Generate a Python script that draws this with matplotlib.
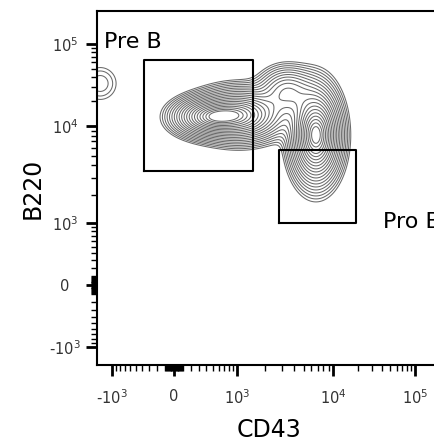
import numpy as np
import matplotlib
matplotlib.use("Agg")
import matplotlib.pyplot as plt

# axis ticks (data values) and their on-screen placement (biexponential display)
tick_vals = [-1e3, 0, 1e3, 1e4, 1e5]
tick_text = ['-$\\mathregular{10^{3}}$', '0', '$\\mathregular{10^{3}}$',
             '$\\mathregular{10^{4}}$', '$\\mathregular{10^{5}}$']
x_tick_px = [112, 174, 237, 333, 415]
y_tick_px = [98, 160, 222, 319, 401]   # measured from the bottom of the figure
W = 476.0

# cell populations: centre (CD43, B220), spread in display px, weight
pop_cd43 = [420, 1080, 6700, 3400, -1360]
pop_b220 = [12900, 13600, 8100, 26000, 33000]
pop_sx = [18, 22, 12.5, 15, 12]
pop_sy = [10, 13, 24, 13, 12]
pop_w = [0.65, 0.8, 1.0, 0.3, 0.05]

# gates: (x0, x1, y0, y1)
gates = {'Pre B': (-380, 1480, 3500, 64000),
         'Pro B': (2800, 19000, 1000, 5700)}


def make_scale(px):
    s = np.arcsinh(np.array(tick_vals) / W)
    p = np.array(px, float)
    k0 = (p[1] - p[0]) / (s[1] - s[0])
    k1 = (p[-1] - p[-2]) / (s[-1] - s[-2])

    def fwd(v):
        a = np.arcsinh(np.asarray(v, float) / W)
        out = np.interp(a, s, p)
        out = np.where(a < s[0], p[0] + (a - s[0]) * k0, out)
        out = np.where(a > s[-1], p[-1] + (a - s[-1]) * k1, out)
        return out

    def inv(q):
        q = np.asarray(q, float)
        a = np.interp(q, p, s)
        a = np.where(q < p[0], s[0] + (q - p[0]) / k0, a)
        a = np.where(q > p[-1], s[-1] + (q - p[-1]) / k1, a)
        return W * np.sinh(a)
    return fwd, inv


fx, ix = make_scale(x_tick_px)
fy, iy = make_scale(y_tick_px)

fig = plt.figure(figsize=(4.34, 4.45), dpi=100)
ax = fig.add_axes([97 / 434, 80 / 445, 343 / 434, 354 / 445])
ax.set_xscale('function', functions=(fx, ix))
ax.set_yscale('function', functions=(fy, iy))

# density field built in display space
gx, gy = np.meshgrid(np.linspace(97, 440, 600), np.linspace(80, 434, 600))
Z = np.zeros_like(gx)
for cx, cy, sx, sy, w in zip(pop_cd43, pop_b220, pop_sx, pop_sy, pop_w):
    Z += w * np.exp(-0.5 * (((gx - fx(cx)) / sx) ** 2 + ((gy - fy(cy)) / sy) ** 2))
Z /= Z.max()
levels = np.exp(-0.5 * np.linspace(2.8, 0.45, 20) ** 2)
ax.contour(ix(gx), iy(gy), Z, levels=levels, colors='#6a6a6a', linewidths=0.75)

for name, (x0, x1, y0, y1) in gates.items():
    ax.plot([x0, x1, x1, x0, x0], [y0, y0, y1, y1, y0], color='black', lw=1.5)

# ticks
minor = []
for d in [10, 100, 1000, 10000]:
    for m in range(1, 10):
        minor += [m * d, -m * d]
minor = [v for v in minor if v not in tick_vals]
for axis in (ax.xaxis, ax.yaxis):
    axis.set_ticks(tick_vals)
    axis.set_ticklabels(tick_text)
    axis.set_ticks(minor, minor=True)

ax.set_xlim(ix(97), ix(440))
ax.set_ylim(iy(80), iy(434))

ax.text(ix(104), iy(445 - 42), 'Pre B', fontsize=16, va='center', ha='left')
ax.text(ix(383), iy(445 - 222), 'Pro B', fontsize=16, va='center', ha='left')

ax.tick_params(which='major', direction='out', length=8, width=2, labelsize=10.5,
               labelcolor='#333333')
ax.tick_params(which='minor', direction='out', length=4, width=1)
ax.tick_params(axis='x', which='major', pad=9)
ax.tick_params(axis='y', which='major', pad=15)
for lab in ax.get_yticklabels():
    lab.set_horizontalalignment('center')

for sp in ['left', 'bottom', 'top']:
    ax.spines[sp].set_linewidth(1.5)
ax.spines['right'].set_visible(False)

ax.set_xlabel('CD43', fontsize=17, labelpad=8)
ax.set_ylabel('B220', fontsize=17, labelpad=3)

fig.savefig('out.png', dpi=100)
